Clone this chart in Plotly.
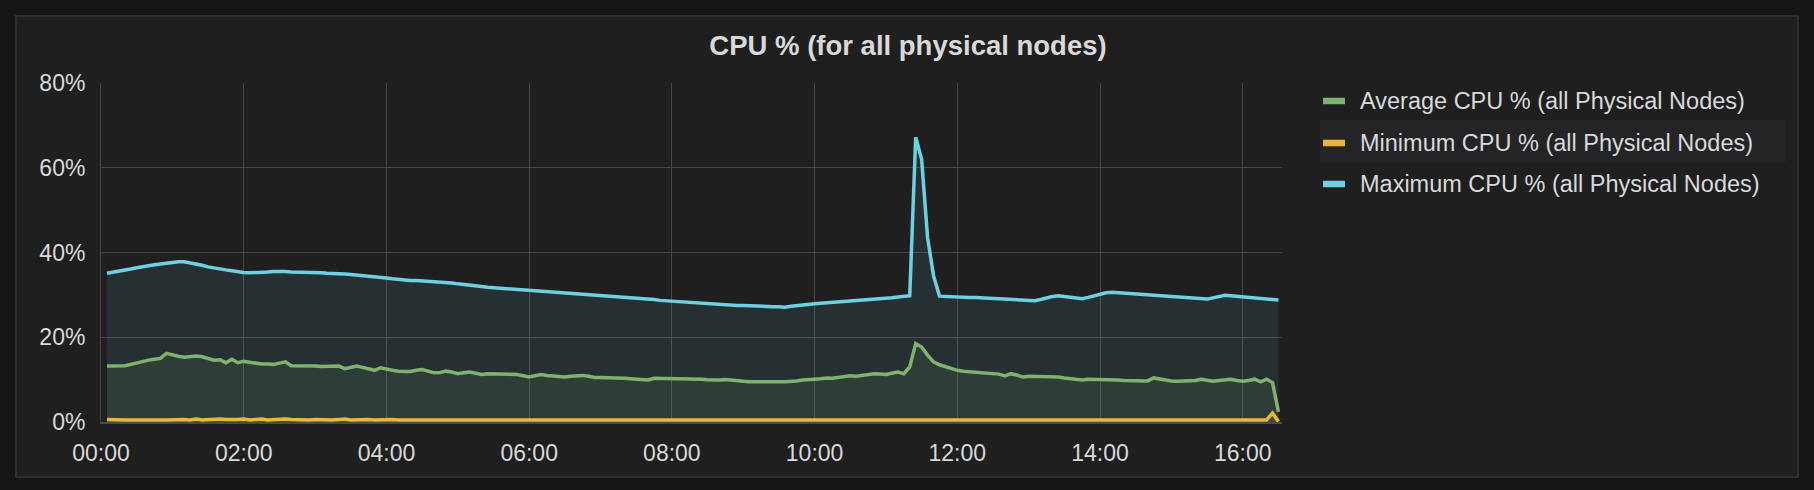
import plotly.graph_objects as go
import pandas as pd

# ---------------- data (5-minute samples, 00:05 .. 16:30) ----------------
avg_cpu = [
    13.2, 13.2, 13.3, 13.3, 13.6, 14.0, 14.4, 14.6, 14.8, 15.0, 16.2, 15.8,
    15.5, 15.3, 15.5, 15.6, 15.4, 14.9, 14.6, 14.7, 14.0, 14.8, 14.0, 14.3,
    14.1, 13.8, 13.7, 13.7, 13.6, 13.9, 14.2, 13.3, 13.3, 13.4, 13.3, 13.2,
    13.1, 13.2, 13.3, 13.2, 12.6, 12.9, 13.2, 12.9, 12.6, 12.2, 12.8, 12.4,
    12.2, 12.0, 11.9, 11.9, 12.2, 12.4, 12.0, 11.6, 11.7, 12.0, 11.8, 11.4,
    11.6, 11.8, 11.5, 11.2, 11.4, 11.4, 11.3, 11.3, 11.3, 11.2, 10.9, 10.6,
    10.9, 11.2, 11.0, 10.8, 10.6, 10.6, 10.8, 10.9, 11.0, 10.8, 10.5, 10.5,
    10.5, 10.5, 10.5, 10.3, 10.2, 10.1, 10.0, 9.9, 10.3, 10.3, 10.2, 10.2,
    10.1, 10.2, 10.3, 10.2, 10.1, 10.0, 9.9, 9.9, 10.0, 9.8, 9.7, 9.6,
    9.5, 9.6, 9.5, 9.5, 9.6, 9.5, 9.5, 9.5, 9.7, 9.9, 10.1, 10.1,
    10.2, 10.4, 10.3, 10.5, 10.7, 10.9, 10.8, 11.0, 11.2, 11.4, 11.3, 11.2,
    11.5, 11.8, 11.4, 13.0, 18.5, 17.7, 15.8, 14.2, 13.5, 13.0, 12.6, 12.2,
    12.0, 11.9, 11.8, 11.8, 11.7, 11.5, 11.3, 10.9, 11.4, 11.1, 10.6, 10.8,
    10.8, 10.7, 10.8, 10.8, 10.6, 10.4, 10.2, 10.0, 9.9, 10.1, 10.1, 10.1,
    10.0, 10.0, 9.9, 9.8, 9.8, 9.7, 9.6, 9.7, 10.4, 10.1, 9.9, 9.7,
    9.6, 9.6, 9.7, 9.8, 10.1, 9.8, 9.6, 9.8, 9.9, 10.1, 9.8, 9.6,
    9.8, 10.1, 9.5, 10.1, 9.3, 2.4,
]

min_cpu = [
    0.6, 0.5, 0.6, 0.5, 0.5, 0.6, 0.5, 0.5, 0.6, 0.5, 0.5, 0.6,
    0.5, 0.6, 0.5, 0.7, 0.5, 0.6, 0.5, 0.7, 0.6, 0.5, 0.6, 0.7,
    0.5, 0.6, 0.7, 0.5, 0.6, 0.5, 0.7, 0.6, 0.5, 0.6, 0.5, 0.6,
    0.5, 0.6, 0.5, 0.6, 0.7, 0.5, 0.6, 0.5, 0.6, 0.5, 0.6, 0.5,
    0.6, 0.5, 0.5, 0.6, 0.5, 0.6, 0.5, 0.5, 0.6, 0.5, 0.6, 0.5,
    0.5, 0.6, 0.5, 0.5, 0.6, 0.5, 0.5, 0.6, 0.5, 0.5, 0.6, 0.5,
    0.5, 0.6, 0.5, 0.5, 0.5, 0.6, 0.5, 0.5, 0.6, 0.5, 0.5, 0.5,
    0.6, 0.5, 0.5, 0.6, 0.5, 0.5, 0.5, 0.6, 0.5, 0.5, 0.6, 0.5,
    0.5, 0.5, 0.6, 0.5, 0.5, 0.5, 0.6, 0.5, 0.5, 0.5, 0.5, 0.6,
    0.5, 0.5, 0.5, 0.6, 0.5, 0.5, 0.5, 0.5, 0.6, 0.5, 0.5, 0.5,
    0.6, 0.5, 0.5, 0.5, 0.6, 0.5, 0.5, 0.6, 0.5, 0.5, 0.6, 0.5,
    0.5, 0.6, 0.5, 0.6, 0.7, 0.7, 0.6, 0.6, 0.7, 0.6, 0.6, 0.5,
    0.6, 0.5, 0.6, 0.6, 0.5, 0.6, 0.5, 0.6, 0.6, 0.5, 0.6, 0.5,
    0.6, 0.5, 0.6, 0.5, 0.5, 0.6, 0.5, 0.6, 0.5, 0.5, 0.6, 0.5,
    0.5, 0.6, 0.5, 0.5, 0.6, 0.5, 0.5, 0.6, 0.5, 0.5, 0.6, 0.5,
    0.5, 0.6, 0.5, 0.5, 0.6, 0.5, 0.5, 0.6, 0.5, 0.5, 0.5, 0.6,
    0.5, 0.5, 0.6, 0.5, 2.1, 0.1,
]

max_cpu = [
    35.1, 35.3, 35.5, 35.8, 36.1, 36.4, 36.7, 36.9, 37.1, 37.3, 37.5, 37.6,
    37.8, 37.8, 37.6, 37.3, 37.0, 36.6, 36.3, 36.1, 35.9, 35.7, 35.4, 35.3,
    35.2, 35.2, 35.3, 35.4, 35.5, 35.6, 35.5, 35.4, 35.4, 35.3, 35.3, 35.2,
    35.2, 35.1, 35.1, 35.0, 34.9, 34.8, 34.7, 34.6, 34.4, 34.3, 34.2, 34.0,
    33.8, 33.6, 33.4, 33.4, 33.4, 33.3, 33.3, 33.3, 33.1, 32.9, 32.8, 32.6,
    32.5, 32.3, 32.1, 32.0, 31.8, 31.7, 31.5, 31.4, 31.3, 31.2, 31.1, 31.0,
    30.9, 30.8, 30.7, 30.6, 30.5, 30.5, 30.4, 30.3, 30.2, 30.1, 30.0, 29.9,
    29.8, 29.7, 29.6, 29.5, 29.4, 29.2, 29.1, 29.0, 28.9, 28.7, 28.6, 28.5,
    28.4, 28.4, 28.3, 28.2, 28.1, 28.0, 27.9, 27.8, 27.7, 27.6, 27.5, 27.5,
    27.4, 27.4, 27.3, 27.3, 27.2, 27.2, 27.1, 27.3, 27.5, 27.6, 27.8, 27.9,
    28.0, 28.1, 28.2, 28.3, 28.4, 28.5, 28.6, 28.7, 28.8, 28.9, 29.0, 29.2,
    29.3, 29.5, 29.6, 29.8, 67.2, 62.0, 43.5, 34.5, 29.7, 29.6, 29.6, 29.5,
    29.5, 29.4, 29.4, 29.3, 29.2, 29.2, 29.1, 29.0, 28.9, 28.8, 28.7, 28.7,
    28.6, 28.9, 29.3, 29.6, 29.8, 29.6, 29.4, 29.2, 29.1, 29.4, 29.8, 30.2,
    30.5, 30.6, 30.5, 30.3, 30.2, 30.1, 30.0, 30.0, 29.9, 29.8, 29.7, 29.6,
    29.5, 29.4, 29.3, 29.2, 29.1, 29.0, 29.3, 29.6, 29.9, 29.8, 29.7, 29.6,
    29.5, 29.4, 29.3, 29.1, 29.0, 28.8,
]

series_names = [
    "Average CPU % (all Physical Nodes)",
    "Minimum CPU % (all Physical Nodes)",
    "Maximum CPU % (all Physical Nodes)",
]
series_colors = ["#7EB26D", "#EAB839", "#6ED0E0"]
series_fills = ["rgba(126,178,109,0.10)", "rgba(234,184,57,0.10)", "rgba(110,208,224,0.10)"]

y_ticks = [0, 20, 40, 60, 80]
y_tick_labels = ["0%", "20%", "40%", "60%", "80%"]
title_text = "CPU % (for all physical nodes)"

start_time = "2017-06-01 00:05"
x_range = ["2017-06-01 00:00", "2017-06-01 16:33"]
times = pd.date_range(start_time, periods=len(avg_cpu), freq="5min")

# ---------------- layout geometry (pixels) ----------------
W, H = 1814, 490
ML, MR, MT, MB = 101, 532, 83, 68
PW, PH = W - ML - MR, H - MT - MB

def px(xp):
    return (xp - ML) / PW

def py(yp):
    return (H - MB - yp) / PH

BG_OUT = "#151515"
BG_PANEL = "#1f1f20"
TXT = "#d8d9da"
GRID = "#454545"
FONT = "Liberation Sans, Arial, sans-serif"

fig = go.Figure()

# draw order: max (fill) , avg, min -> lines on top
for vals, idx in ((max_cpu, 2), (avg_cpu, 0), (min_cpu, 1)):
    fig.add_trace(go.Scatter(
        x=times, y=vals, mode="lines", name=series_names[idx],
        line=dict(color=series_colors[idx], width=3.5),
        fill="tozeroy", fillcolor=series_fills[idx],
        showlegend=False, hoverinfo="skip",
    ))

shapes = [
    # panel background + border
    dict(type="rect", xref="paper", yref="paper",
         x0=px(16), x1=px(1798), y0=py(477), y1=py(16),
         fillcolor=BG_PANEL, line=dict(color="#2e2e30", width=2), layer="below"),
    # hovered legend row highlight
    dict(type="rect", xref="paper", yref="paper",
         x0=px(1320), x1=px(1786), y0=py(162), y1=py(120),
         fillcolor="#242426", line=dict(width=0), layer="below"),
]
annotations = []
legend_rows = [101, 143, 184]
for i, yrow in enumerate(legend_rows):
    shapes.append(dict(type="line", xref="paper", yref="paper",
                       x0=px(1323), x1=px(1345), y0=py(yrow), y1=py(yrow),
                       line=dict(color=series_colors[i], width=6.5)))
    annotations.append(dict(xref="paper", yref="paper", x=px(1358), y=py(yrow),
                            xanchor="left", yanchor="middle", showarrow=False,
                            text=series_names[i],
                            font=dict(size=23.5, color=TXT, family=FONT)))

fig.update_layout(
    width=W, height=H,
    margin=dict(l=ML, r=MR, t=MT, b=MB, autoexpand=False),
    paper_bgcolor=BG_OUT, plot_bgcolor=BG_PANEL,
    font=dict(family=FONT, color=TXT, size=23),
    title=dict(text="<b>" + title_text + "</b>", x=908 / W, xref="container", xanchor="center",
               y=1 - 45 / H, yref="container", yanchor="middle",
               font=dict(size=27.5, color=TXT, family=FONT)),
    shapes=shapes, annotations=annotations,
    showlegend=False,
    xaxis=dict(type="date", range=x_range, tickformat="%H:%M",
               tick0="2017-06-01 00:00", dtick=2 * 3600 * 1000,
               showgrid=True, gridcolor=GRID, gridwidth=1,
               showline=True, linecolor="#4a4a4a", linewidth=1.5,
               ticks="", ticklabelstandoff=10, zeroline=False,
               tickfont=dict(size=23, color=TXT)),
    yaxis=dict(range=[0, 80], tickvals=y_ticks, ticktext=y_tick_labels,
               showgrid=True, gridcolor=GRID, gridwidth=1,
               showline=True, linecolor=GRID, linewidth=1,
               ticks="", ticklabelstandoff=10, zeroline=False,
               tickfont=dict(size=23, color=TXT)),
)

fig.write_html("out.html",
               config={"displayModeBar": False},
               post_script="document.body.style.margin='0px';document.body.style.background='#151515';")
